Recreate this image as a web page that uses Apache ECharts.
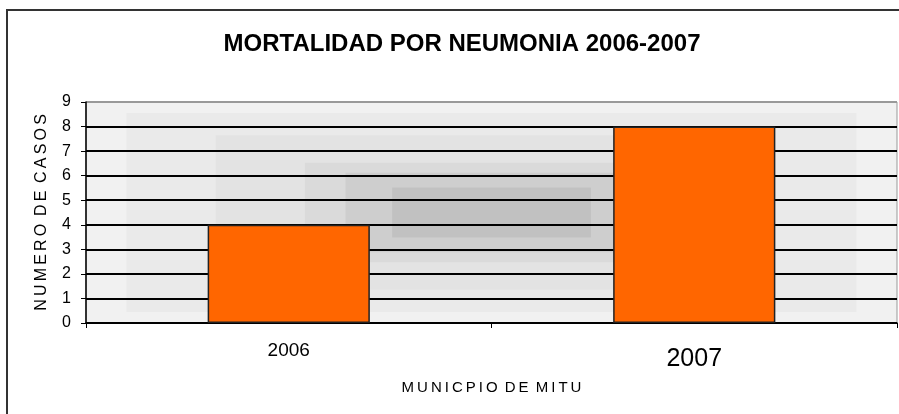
<!DOCTYPE html>
<html lang="es">
  <head>
    <meta charset="UTF-8" />
    <title>Mortalidad por neumonia</title>
    <script src="https://cdn.jsdelivr.net/npm/echarts@6/dist/echarts.min.js"></script>
    <style>
      html,
      body {
        margin: 0;
        padding: 0;
        background: #fff;
      }
      #main {
        width: 899px;
        height: 414px;
      }
    </style>
  </head>
  <body>
    <div id="main"></div>
    <script type="text/javascript">
      // datos
      var years = ["2006", "2007"];
      var casos = [4, 8];
      var yTicks = [0, 1, 2, 3, 4, 5, 6, 7, 8, 9];

      // separa las letras con espacio fino (el original tiene texto espaciado)
      function spaced(s) {
        return s.split(" ").map(function (w) {
          return w.split("").join("\u2009");
        }).join(" \u2009");
      }

      // area del grafico
      var G = { left: 86, right: 2, top: 102, bottom: 91 };
      var W = 899, H = 414;
      var pw = W - G.left - G.right;
      var ph = H - G.top - G.bottom;
      var cx = G.left + pw / 2;
      var cy = G.top + ph / 2;

      // fondo degradado en rectangulos concentricos
      var levels = [
        [1.0, 1.0, "#f1f1f1"],
        [0.9, 0.9, "#eaeaea"],
        [0.68, 0.7, "#e3e3e3"],
        [0.46, 0.45, "#dadada"],
        [0.36, 0.36, "#cecece"],
        [0.245, 0.227, "#c1c1c1"],
      ];
      var bg = levels.map(function (l) {
        return {
          type: "rect",
          z: -10,
          silent: true,
          shape: {
            x: cx - (l[0] * pw) / 2,
            y: cy - (l[1] * ph) / 2,
            width: l[0] * pw,
            height: l[1] * ph,
          },
          style: { fill: l[2] },
        };
      });
      // marco exterior
      bg.push({
        type: "rect",
        z: -20,
        silent: true,
        shape: { x: 7, y: 10, width: 900, height: 420 },
        style: { fill: "#fff", stroke: "#333", lineWidth: 2 },
      });

      var gridColors = yTicks.map(function (t, i) {
        return i === yTicks.length - 1 ? "#999" : "#000";
      });

      var myChart = echarts.init(document.getElementById("main"));
      var option = {
        animation: false,
        title: {
          text: "MORTALIDAD POR NEUMONIA 2006-2007",
          left: 457,
          textAlign: "center",
          top: 27,
          textStyle: {
            fontFamily: "Liberation Sans, Arial",
            fontWeight: "bold",
            fontSize: 24,
            color: "#000",
          },
        },
        graphic: bg,
        grid: {
          left: G.left,
          right: G.right,
          top: G.top,
          bottom: G.bottom,
          show: true,
          borderColor: "#999",
          borderWidth: 1,
          backgroundColor: "transparent",
        },
        xAxis: {
          type: "category",
          data: years,
          name: spaced("MUNICPIO DE MITU"),
          nameLocation: "middle",
          nameGap: 57,
          nameTextStyle: {
            fontFamily: "Liberation Sans, Arial",
            fontSize: 15,
            color: "#000",
          },
          axisLine: { lineStyle: { color: "#000", width: 1.5 } },
          axisTick: { show: true, length: 5, lineStyle: { color: "#000" } },
          axisLabel: {
            margin: 18,
            formatter: function (v, i) {
              return i === 0 ? "{s|" + v + "}" : "{l|" + v + "}";
            },
            rich: {
              s: { fontFamily: "Liberation Sans, Arial", fontSize: 19, color: "#000" },
              l: { fontFamily: "Liberation Sans, Arial", fontSize: 25, color: "#000", padding: [6, 0, 0, 0] },
            },
          },
        },
        yAxis: {
          type: "value",
          min: 0,
          max: 9,
          interval: 1,
          name: spaced("NUMERO DE CASOS"),
          nameLocation: "middle",
          nameGap: 36,
          nameTextStyle: {
            fontFamily: "Liberation Sans, Arial",
            fontSize: 16,
            color: "#000",
          },
          axisLine: { show: true, lineStyle: { color: "#000", width: 1.5 } },
          axisTick: { show: true, length: 5, lineStyle: { color: "#000" } },
          axisLabel: {
            margin: 15,
            fontFamily: "Liberation Sans, Arial",
            fontSize: 16,
            color: "#000",
          },
          splitLine: {
            show: true,
            lineStyle: { color: gridColors, width: 2 },
          },
        },
        series: [
          {
            type: "bar",
            data: casos,
            barWidth: "40%",
            itemStyle: {
              color: "#ff6600",
              borderColor: "#222",
              borderWidth: 1.5,
            },
          },
        ],
      };
      myChart.setOption(option);
    </script>
  </body>
</html>
